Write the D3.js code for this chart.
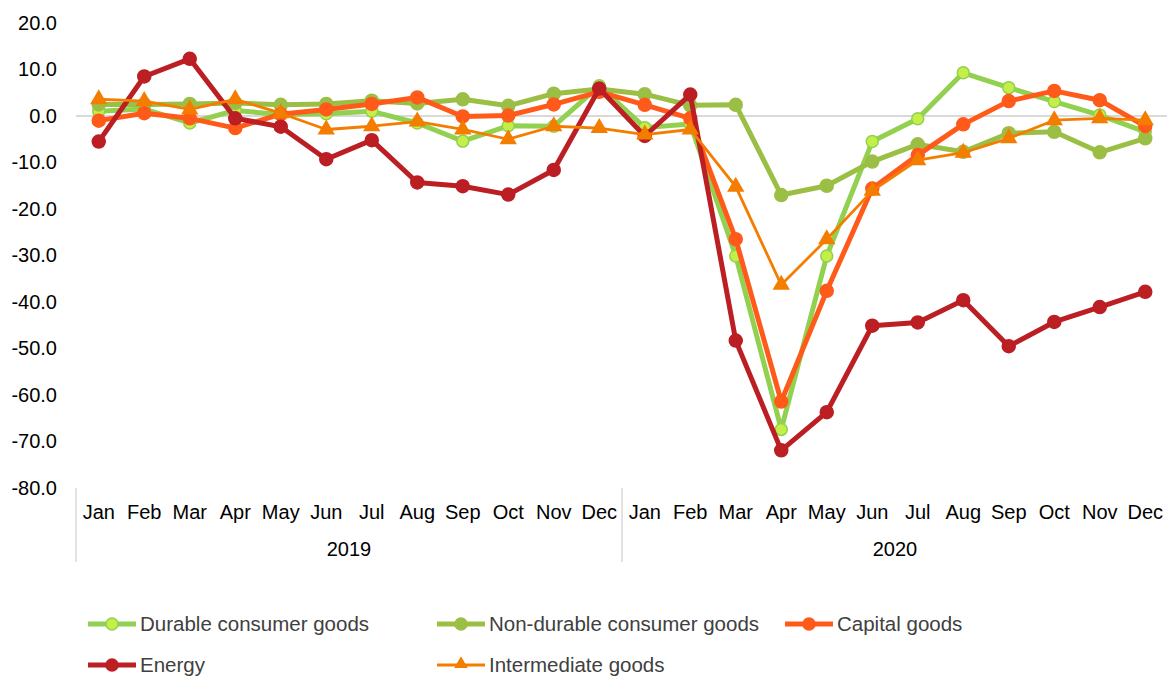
<!DOCTYPE html>
<html>
<head>
<meta charset="utf-8">
<script src="https://cdn.jsdelivr.net/npm/d3@7"></script>
<style>
  body { margin: 0; background: #fff; }
  svg { font-family: "Liberation Sans", Arial, sans-serif; }
</style>
</head>
<body>
<div id="chart"></div>
<script>
// Categories
const years = ["2019", "2020"];
const months = ["Jan", "Feb", "Mar", "Apr", "May", "Jun", "Jul", "Aug", "Sep", "Oct", "Nov", "Dec"];
const yTicks = [20, 10, 0, -10, -20, -30, -40, -50, -60, -70, -80];

// Series values (% change), Jan 2019 .. Dec 2020
const durable = [1.0, 1.5, -1.5, 1.2, 0.3, 0.5, 1.0, -1.5, -5.4, -2.1, -2.2, 6.5,
  -2.5, -1.7, -30.1, -67.4, -30.1, -5.5, -0.6, 9.3, 6.1, 3.1, 0.2, -3.4];
const nonDurable = [2.5, 2.5, 2.6, 2.8, 2.4, 2.6, 3.3, 2.7, 3.6, 2.2, 4.8, 5.8,
  4.7, 2.3, 2.4, -17.0, -15.0, -9.8, -6.1, -7.7, -3.7, -3.4, -7.8, -4.8];
const capital = [-1.0, 0.6, -0.5, -2.6, 0.4, 1.4, 2.6, 4.0, -0.1, 0.1, 2.5, 5.2,
  2.4, -0.5, -26.5, -61.4, -37.6, -15.6, -8.4, -1.8, 3.2, 5.4, 3.4, -2.2];
const energy = [-5.5, 8.5, 12.3, -0.5, -2.3, -9.3, -5.2, -14.3, -15.1, -16.9, -11.6, 5.9,
  -4.3, 4.6, -48.3, -71.9, -63.7, -45.1, -44.4, -39.6, -49.5, -44.3, -41.1, -37.8];
const intermediate = [3.6, 3.2, 1.4, 3.6, 0.6, -2.9, -2.2, -1.2, -2.9, -5.0, -2.2, -2.6,
  -4.0, -2.9, -15.2, -36.3, -26.5, -16.1, -9.5, -7.9, -4.8, -0.9, -0.5, -0.9];

const keys = years.flatMap(yr => months.map(m => yr + "-" + m));

const series = [
  { name: "Durable consumer goods", values: durable, line: "#92d050", fill: "#c4ef48", stroke: "#92d050", width: 5, shape: "circle", r: 6 },
  { name: "Non-durable consumer goods", values: nonDurable, line: "#9bbf45", fill: "#9bbf45", stroke: "#9bbf45", width: 5, shape: "circle", r: 6.5 },
  { name: "Capital goods", values: capital, line: "#ff5a1a", fill: "#ff5a1a", stroke: "#ff5a1a", width: 5, shape: "circle", r: 6.5 },
  { name: "Energy", values: energy, line: "#bb1e23", fill: "#bb1e23", stroke: "#bb1e23", width: 5, shape: "circle", r: 6.5 },
  { name: "Intermediate goods", values: intermediate, line: "#f47d00", fill: "#f47d00", stroke: "#f47d00", width: 2.8, shape: "triangle", r: 0 }
];

const W = 1167, H = 677;
const plot = { left: 76, right: 1168, top: 23, bottom: 488 };

const svg = d3.select("#chart").append("svg")
  .attr("width", W)
  .attr("height", H);

const x = d3.scaleBand()
  .domain(keys)
  .range([plot.left, plot.right]);

const y = d3.scaleLinear()
  .domain([-80, 20])
  .range([plot.bottom, plot.top]);

// Zero line
svg.append("line")
  .attr("x1", plot.left).attr("x2", plot.right)
  .attr("y1", y(0)).attr("y2", y(0))
  .attr("stroke", "#d9d9d9")
  .attr("stroke-width", 2);

// Y axis (plain hyphen for negatives, like the source)
const yAxis = svg.append("g")
  .attr("transform", `translate(62,0)`)
  .call(d3.axisLeft(y).tickValues(yTicks).tickFormat(d => d.toFixed(1)).tickSize(0).tickPadding(5));
yAxis.select(".domain").remove();
yAxis.selectAll("text")
  .style("font-size", "20px")
  .style("font-family", "Liberation Sans, Arial, sans-serif")
  .attr("fill", "#000");

// X axis (months)
const xAxis = svg.append("g")
  .attr("transform", `translate(0,${plot.bottom})`)
  .call(d3.axisBottom(x).tickFormat(k => k.split("-")[1]).tickSize(0).tickPadding(17));
xAxis.select(".domain").remove();
xAxis.selectAll("text")
  .style("font-size", "20px")
  .style("font-family", "Liberation Sans, Arial, sans-serif")
  .attr("fill", "#000");

// Year group separators and labels
const sepX = [x(keys[0]), x(keys[12]), x(keys[23]) + x.bandwidth()];
svg.selectAll(".sep")
  .data(sepX)
  .join("line")
  .attr("x1", d => d).attr("x2", d => d)
  .attr("y1", plot.bottom).attr("y2", 562)
  .attr("stroke", "#d9d9d9")
  .attr("stroke-width", 1.5);

svg.selectAll(".year")
  .data(years)
  .join("text")
  .attr("x", (d, i) => (sepX[i] + sepX[i + 1]) / 2)
  .attr("y", 556)
  .attr("text-anchor", "middle")
  .style("font-size", "20px")
  .attr("fill", "#000")
  .text(d => d);

// Lines and markers
const triangle = d3.symbol().type(d3.symbolTriangle).size(130);

series.forEach(s => {
  const line = d3.line()
    .x((d, i) => x(keys[i]) + x.bandwidth() / 2)
    .y(d => y(d));

  svg.append("path")
    .datum(s.values)
    .attr("fill", "none")
    .attr("stroke", s.line)
    .attr("stroke-width", s.width)
    .attr("stroke-linejoin", "round")
    .attr("d", line);

  if (s.shape === "circle") {
    svg.append("g").selectAll("circle")
      .data(s.values)
      .join("circle")
      .attr("cx", (d, i) => x(keys[i]) + x.bandwidth() / 2)
      .attr("cy", d => y(d))
      .attr("r", s.r)
      .attr("fill", s.fill)
      .attr("stroke", s.stroke)
      .attr("stroke-width", 1.5);
  } else {
    svg.append("g").selectAll("path")
      .data(s.values)
      .join("path")
      .attr("transform", (d, i) => `translate(${x(keys[i]) + x.bandwidth() / 2},${y(d)})`)
      .attr("d", triangle)
      .attr("fill", s.fill);
  }
});

// Legend
const legendPos = [[88, 624], [437, 624], [785, 624], [88, 665], [437, 665]];
series.forEach((s, i) => {
  const [lx, ly] = legendPos[i];
  const g = svg.append("g").attr("transform", `translate(${lx},${ly})`);
  g.append("line")
    .attr("x1", 0).attr("x2", 48)
    .attr("y1", 0).attr("y2", 0)
    .attr("stroke", s.line)
    .attr("stroke-width", s.width);
  if (s.shape === "circle") {
    g.append("circle")
      .attr("cx", 24).attr("cy", 0).attr("r", 6)
      .attr("fill", s.fill)
      .attr("stroke", s.stroke)
      .attr("stroke-width", 1.5);
  } else {
    g.append("path")
      .attr("transform", "translate(24,-1)")
      .attr("d", d3.symbol().type(d3.symbolTriangle).size(80))
      .attr("fill", s.fill);
  }
  g.append("text")
    .attr("x", 52)
    .attr("y", 7)
    .style("font-size", "20.5px")
    .attr("fill", "#404040")
    .text(s.name);
});
</script>
</body>
</html>
